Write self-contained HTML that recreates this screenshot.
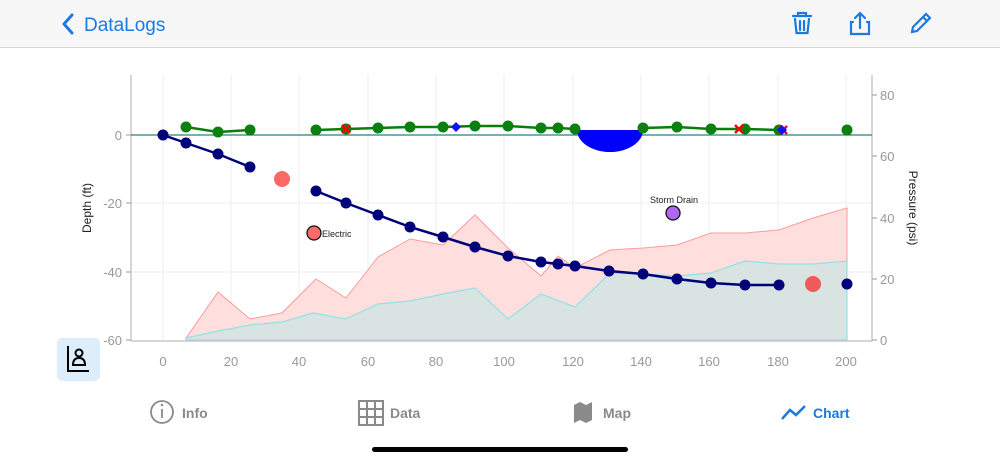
<!DOCTYPE html>
<html><head><meta charset="utf-8"><style>
html,body{margin:0;padding:0;width:1000px;height:462px;background:#fff;overflow:hidden;font-family:"Liberation Sans",sans-serif}
</style></head><body>
<svg width="1000" height="462" xmlns="http://www.w3.org/2000/svg" font-family="Liberation Sans, sans-serif">
<rect x="0" y="0" width="1000" height="47" fill="#f7f7f7"/>
<line x1="0" y1="47.5" x2="1000" y2="47.5" stroke="#d8d8d8"/>
<path d="M72 15 L64 24 L72 33" fill="none" stroke="#1a7ae0" stroke-width="3" stroke-linecap="round" stroke-linejoin="round"/>
<text x="84" y="31" font-size="19" fill="#1a7ae0">DataLogs</text>
<g fill="none" stroke="#1a7ae0" stroke-width="2.2" stroke-linecap="round">
<path d="M793 16 H811 M798 16 V13 H806 V16"/><path d="M795 19 L796.5 33 H807.5 L809 19"/><path d="M800 21 V30 M804 21 V30"/>
<path d="M853 22 H851 V34 H869 V22 H867"/><path d="M860 28 V13 M855 18 L860 13 L865 18"/>
<path d="M912 32 L913 27 L926 14 L930 18 L917 31 Z M923 17 L927 21"/>
</g>
<g stroke="#ececec" stroke-width="1">
<line x1="163" y1="75" x2="163" y2="340"/><line x1="231" y1="75" x2="231" y2="340"/><line x1="299" y1="75" x2="299" y2="340"/><line x1="368" y1="75" x2="368" y2="340"/><line x1="436" y1="75" x2="436" y2="340"/><line x1="504" y1="75" x2="504" y2="340"/><line x1="573" y1="75" x2="573" y2="340"/><line x1="641" y1="75" x2="641" y2="340"/><line x1="709" y1="75" x2="709" y2="340"/><line x1="778" y1="75" x2="778" y2="340"/><line x1="846" y1="75" x2="846" y2="340"/>
<line x1="131" y1="203" x2="872" y2="203"/><line x1="131" y1="272" x2="872" y2="272"/>
</g>
<polygon points="186,338 218,292 250,319 282,313 316,279 346,298 378,257 410,239 443,245 475,215 508,248 541,276 558,256 575,268 610,250 643,248 677,245 711,233 745,233 779,230 813,218 847,208 847,340 186,340" fill="#ffdede" stroke="#ff9a9a" stroke-width="1"/>
<polygon points="186,338 218,331 250,325 282,322 313,313 346,319 378,304 410,301 443,294 475,288 508,319 541,294 575,307 610,273 643,274 677,276 711,273 745,261 779,264 813,264 847,261 847,340 186,340" fill="#d9e3e2" stroke="#8ee3e6" stroke-width="1.2"/>
<g stroke="#c8c8c8" stroke-width="1.5"><line x1="131" y1="75" x2="131" y2="341"/><line x1="872" y1="75" x2="872" y2="341"/><line x1="131" y1="341" x2="872" y2="341"/></g>
<g stroke="#999"><line x1="126" y1="135" x2="131" y2="135"/><line x1="126" y1="203" x2="131" y2="203"/><line x1="126" y1="272" x2="131" y2="272"/><line x1="126" y1="340" x2="131" y2="340"/>
<line x1="872" y1="95" x2="877" y2="95"/><line x1="872" y1="156" x2="877" y2="156"/><line x1="872" y1="218" x2="877" y2="218"/><line x1="872" y1="279" x2="877" y2="279"/><line x1="872" y1="340" x2="877" y2="340"/></g>
<g font-size="13" fill="#999" text-anchor="end"><text x="122" y="140">0</text><text x="122" y="208">-20</text><text x="122" y="277">-40</text><text x="122" y="345">-60</text></g>
<g font-size="13" fill="#999"><text x="880" y="100">80</text><text x="880" y="161">60</text><text x="880" y="223">40</text><text x="880" y="284">20</text><text x="880" y="345">0</text></g>
<g font-size="13" fill="#999" text-anchor="middle"><text x="163" y="366">0</text><text x="231" y="366">20</text><text x="299" y="366">40</text><text x="368" y="366">60</text><text x="436" y="366">80</text><text x="504" y="366">100</text><text x="573" y="366">120</text><text x="641" y="366">140</text><text x="709" y="366">160</text><text x="778" y="366">180</text><text x="846" y="366">200</text></g>
<text transform="translate(91,208) rotate(-90)" font-size="12" text-anchor="middle" fill="#222">Depth (ft)</text>
<text transform="translate(909,208) rotate(90)" font-size="12" text-anchor="middle" fill="#222">Pressure (psi)</text>
<line x1="131" y1="135" x2="872" y2="135" stroke="#2a7f7f" stroke-width="1.2"/>
<path d="M577 130 A33 22 0 0 0 643 130 Z" fill="#0000ff"/>
<g stroke="#0a7d0a" stroke-width="2.5" fill="none"><polyline points="186,127 218,132 250,130"/><polyline points="316,130 346,129 378,128 410,127 443,127 475,126 508,126 541,128 558,128 575,129"/><polyline points="643,128 677,127 711,129 745,129 779,130"/></g>
<g fill="#0a8010"><circle cx="186" cy="127" r="5.5"/><circle cx="218" cy="132" r="5.5"/><circle cx="250" cy="130" r="5.5"/><circle cx="316" cy="130" r="5.5"/><circle cx="346" cy="129" r="5.5"/><circle cx="378" cy="128" r="5.5"/><circle cx="410" cy="127" r="5.5"/><circle cx="443" cy="127" r="5.5"/><circle cx="475" cy="126" r="5.5"/><circle cx="508" cy="126" r="5.5"/><circle cx="541" cy="128" r="5.5"/><circle cx="558" cy="128" r="5.5"/><circle cx="575" cy="129" r="5.5"/><circle cx="643" cy="128" r="5.5"/><circle cx="677" cy="127" r="5.5"/><circle cx="711" cy="129" r="5.5"/><circle cx="745" cy="129" r="5.5"/><circle cx="779" cy="130" r="5.5"/><circle cx="847" cy="130" r="5.5"/></g>
<g stroke="#ff0000" stroke-width="2.5"><path d="M342 125 L350 133 M350 125 L342 133"/><path d="M735 125 L743 133 M743 125 L735 133"/><path d="M779 126 L787 134 M787 126 L779 134"/></g>
<g fill="#1010ff"><path d="M456 122 L461 127 L456 132 L451 127 Z"/><path d="M782 125 L787 130 L782 135 L777 130 Z"/></g>
<g stroke="#00007a" stroke-width="2.5" fill="none"><polyline points="163,135 186,143 218,154 250,167"/><polyline points="316,191 346,203 378,215 410,227 443,237 475,247 508,256 541,262 558,264 575,266 609,271 643,274 677,279 711,283 745,285 779,285"/></g>
<g fill="#00007a"><circle cx="163" cy="135" r="5.5"/><circle cx="186" cy="143" r="5.5"/><circle cx="218" cy="154" r="5.5"/><circle cx="250" cy="167" r="5.5"/><circle cx="316" cy="191" r="5.5"/><circle cx="346" cy="203" r="5.5"/><circle cx="378" cy="215" r="5.5"/><circle cx="410" cy="227" r="5.5"/><circle cx="443" cy="237" r="5.5"/><circle cx="475" cy="247" r="5.5"/><circle cx="508" cy="256" r="5.5"/><circle cx="541" cy="262" r="5.5"/><circle cx="558" cy="264" r="5.5"/><circle cx="575" cy="266" r="5.5"/><circle cx="609" cy="271" r="5.5"/><circle cx="643" cy="274" r="5.5"/><circle cx="677" cy="279" r="5.5"/><circle cx="711" cy="283" r="5.5"/><circle cx="745" cy="285" r="5.5"/><circle cx="779" cy="285" r="5.5"/><circle cx="847" cy="284" r="5.5"/></g>
<circle cx="282" cy="179" r="8" fill="#ff6666"/><circle cx="813" cy="284" r="8" fill="#f05a5a"/>
<circle cx="314" cy="233" r="7" fill="#ff6b6b" stroke="#111" stroke-width="1.3"/>
<text x="322" y="237" font-size="9" fill="#222">Electric</text>
<circle cx="673" cy="213" r="7" fill="#b066f5" stroke="#111" stroke-width="1.3"/>
<text x="674" y="203" font-size="9" fill="#222" text-anchor="middle">Storm Drain</text>
<rect x="57" y="338" width="43" height="43" rx="5" fill="#dcedfc"/>
<g stroke="#000" stroke-width="2" fill="none"><path d="M68 346 V371 H89"/><circle cx="79" cy="353" r="3.5"/><path d="M73 365 Q73 358 79 358 Q85 358 85 365 Z"/></g>
<g fill="none" stroke="#8a8a8a" stroke-width="1.8"><circle cx="162" cy="412" r="11"/><line x1="162" y1="409" x2="162" y2="418"/></g>
<circle cx="162" cy="405" r="1.3" fill="#8a8a8a"/>
<text x="182" y="418" font-size="14" font-weight="bold" fill="#8a8a8a">Info</text>
<g fill="none" stroke="#8a8a8a" stroke-width="2"><rect x="359" y="401" width="24" height="24"/><path d="M367 401 V425 M375 401 V425 M359 409 H383 M359 417 H383"/></g>
<text x="390" y="418" font-size="14" font-weight="bold" fill="#8a8a8a">Data</text>
<path d="M574 405 L580 402 L586 405 L592 402 V420 L586 423 L580 420 L574 423 Z" fill="#8a8a8a"/>
<text x="603" y="418" font-size="14" font-weight="bold" fill="#8a8a8a">Map</text>
<polyline points="782,419 790,410 796,415 805,406" fill="none" stroke="#1a7ae0" stroke-width="2.5"/>
<text x="813" y="418" font-size="14" font-weight="bold" fill="#1a7ae0">Chart</text>
<rect x="372" y="447" width="256" height="5" rx="2.5" fill="#000"/>
</svg>
</body></html>
